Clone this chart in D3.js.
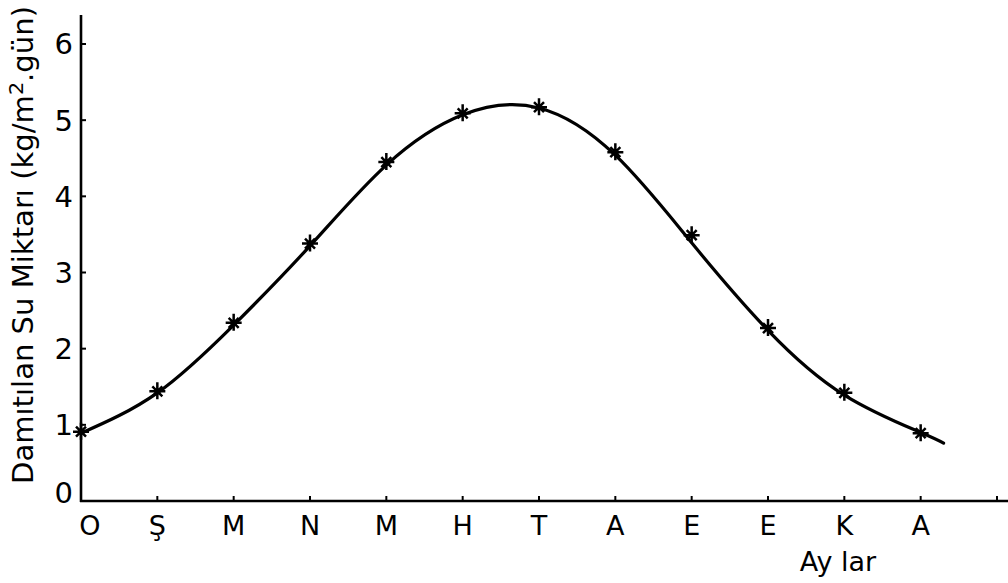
<!DOCTYPE html>
<html>
<head>
<meta charset="utf-8">
<script src="https://cdn.jsdelivr.net/npm/d3@7"></script>
<style>
  html, body { margin: 0; padding: 0; background: #fff; }
  svg { display: block; }
  text { font-family: "DejaVu Sans", sans-serif; fill: #000; }
</style>
</head>
<body>
<svg id="chart" width="1008" height="583"></svg>
<script>
// Months of the year (starting with Ocak), one tick per month
const months = ["O", "Ş", "M", "N", "M", "H", "T", "A", "E", "E", "K", "A"];
const monthIndex = [0, 1, 2, 3, 4, 5, 6, 7, 8, 9, 10, 11];

// Measured distilled water amounts (kg/m²·gün)
const measured = [0.91, 1.44, 2.34, 3.38, 4.45, 5.09, 5.17, 4.58, 3.49, 2.27, 1.42, 0.89];

// Smoothed fit curve (month position, value)
const fitMonth = [0, 1, 2, 3, 4, 5, 6, 7, 8, 9, 10, 11, 11.3];
const fitValue = [0.89, 1.42, 2.31, 3.35, 4.41, 5.07, 5.16, 4.54, 3.39, 2.24, 1.39, 0.9, 0.76];

const yTicks = [0, 1, 2, 3, 4, 5, 6];
const yLabel = "Damıtılan Su Miktarı (kg/m";
const xLabel = "Ay lar";

const svg = d3.select("#chart");
const x0 = 81, yBase = 501;

const x = d3.scaleLinear().domain([0, 12]).range([x0, 997]);
const y = d3.scaleLinear().domain([0, 6]).range([yBase, 44]);

// Axes lines
svg.append("line").attr("x1", x0).attr("x2", x0).attr("y1", 15).attr("y2", yBase + 1)
  .attr("stroke", "#000").attr("stroke-width", 2.6);
svg.append("line").attr("x1", x0 - 1).attr("x2", 1008).attr("y1", yBase).attr("y2", yBase)
  .attr("stroke", "#000").attr("stroke-width", 2.6);

// Y ticks (pointing inward) and labels
const yAxis = svg.append("g");
yAxis.selectAll("line").data(yTicks.filter(d => d > 0)).join("line")
  .attr("x1", x0).attr("x2", x0 + 5)
  .attr("y1", d => y(d)).attr("y2", d => y(d))
  .attr("stroke", "#000").attr("stroke-width", 2);
yAxis.selectAll("text").data(yTicks).join("text")
  .attr("x", 73).attr("y", d => d === 0 ? y(d) - 8 : y(d))
  .attr("dy", "0.36em")
  .attr("text-anchor", "end")
  .attr("font-size", 29)
  .text(d => d);

// X ticks (pointing inward) and month labels
const xTickPos = d3.range(1, 13);
const xAxis = svg.append("g");
xAxis.selectAll("line").data(xTickPos).join("line")
  .attr("x1", d => x(d)).attr("x2", d => x(d))
  .attr("y1", yBase).attr("y2", yBase - 5)
  .attr("stroke", "#000").attr("stroke-width", 2);
xAxis.selectAll("text").data(monthIndex).join("text")
  .attr("x", d => d === 0 ? x(d) + 9 : x(d))
  .attr("y", 535)
  .attr("text-anchor", "middle")
  .attr("font-size", 27)
  .text(d => months[d]);

// Axis titles
svg.append("text")
  .attr("x", 838).attr("y", 571)
  .attr("text-anchor", "middle")
  .attr("font-size", 27)
  .text(xLabel);

const yt = svg.append("text")
  .attr("transform", "translate(33,245) rotate(-90)")
  .attr("text-anchor", "middle")
  .attr("font-size", 28)
  .attr("textLength", 478)
  .attr("lengthAdjust", "spacingAndGlyphs");
yt.append("tspan").text(yLabel);
yt.append("tspan").attr("dy", -10).attr("font-size", 20).text("2");
yt.append("tspan").attr("dy", 10).text(".gün)");

// Smooth fitted curve
const fitData = fitMonth.map((m, i) => [m, fitValue[i]]);
svg.append("path")
  .datum(fitData)
  .attr("fill", "none")
  .attr("stroke", "#000")
  .attr("stroke-width", 3.2)
  .attr("stroke-linecap", "round")
  .attr("d", d3.line().x(d => x(d[0])).y(d => y(d[1])).curve(d3.curveNatural));

// Star markers for measured values
const mk = svg.append("g").selectAll("g").data(monthIndex).join("g")
  .attr("transform", d => `translate(${x(d)},${y(measured[d])})`);
mk.append("path")
  .attr("d", "M-8,0H8M0,-9V8M-5,-5L5,5M-5,5L5,-5")
  .attr("stroke", "#000").attr("stroke-width", 2.5).attr("fill", "none");
</script>
</body>
</html>
